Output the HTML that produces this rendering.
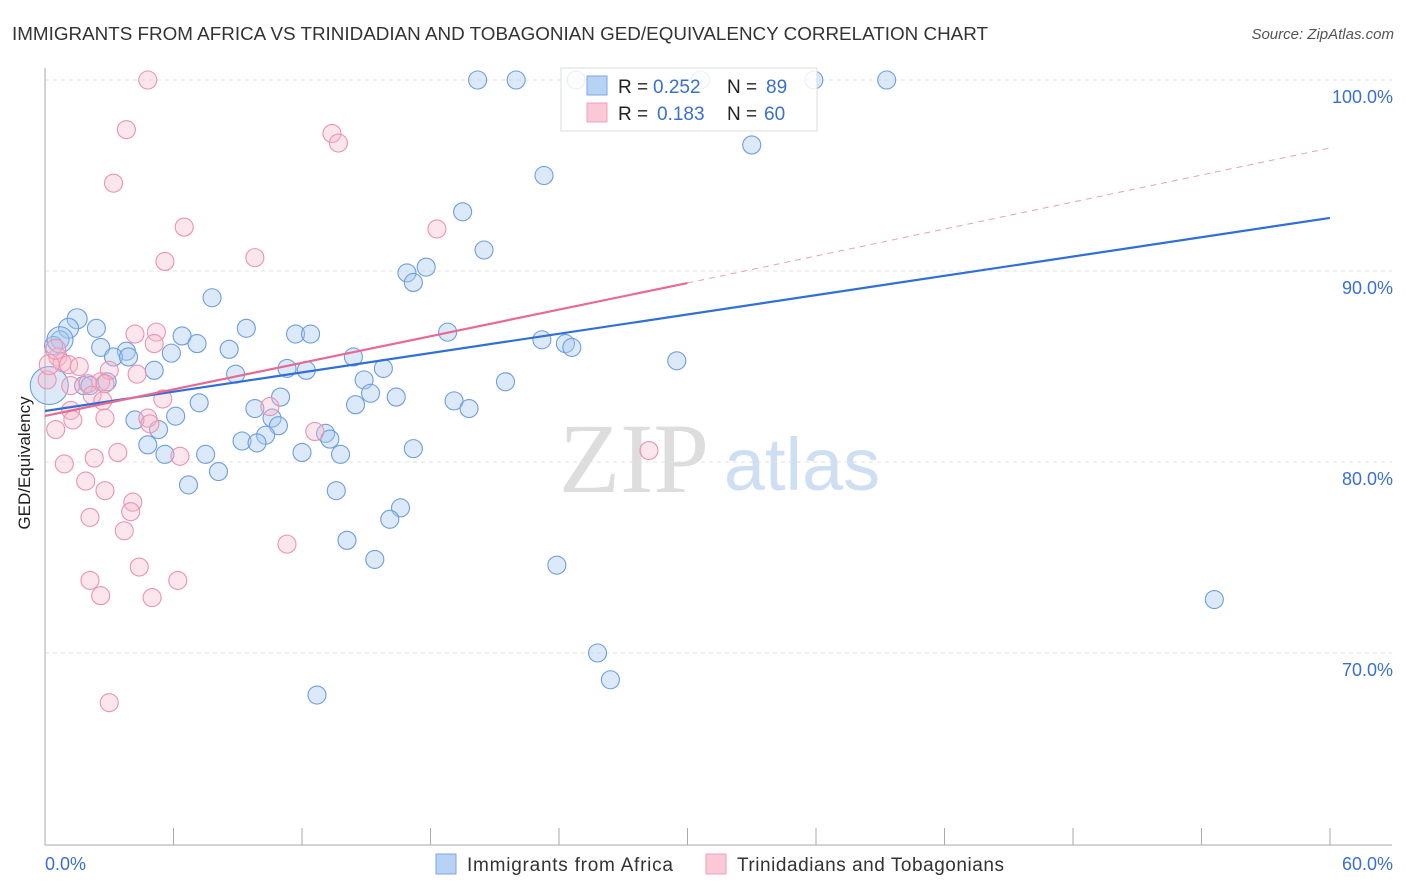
<!DOCTYPE html>
<html><head><meta charset="utf-8"><style>
body{margin:0;background:#fff;font-family:"Liberation Sans",sans-serif;}
svg{display:block}
</style></head><body>
<svg id="c" width="1406" height="892" viewBox="0 0 1406 892">
<text x="12" y="40" font-size="18" fill="#333" textLength="976" lengthAdjust="spacingAndGlyphs">IMMIGRANTS FROM AFRICA VS TRINIDADIAN AND TOBAGONIAN GED/EQUIVALENCY CORRELATION CHART</text>
<text x="1394" y="39" font-size="15" fill="#555" font-style="italic" text-anchor="end">Source: ZipAtlas.com</text>
<g>
<text x="634" y="492" font-size="100" font-family="Liberation Serif,serif" fill="#ddd" text-anchor="middle">ZIP</text>
<text x="802" y="490" font-size="74" fill="#cfdff3" text-anchor="middle">atlas</text>
</g>
<g id="grid"></g>
<g id="axes"></g>
<g id="pts"></g>
<g id="trend"></g>
<text x="22" y="455" font-size="17" fill="#222" transform="rotate(-90 30 455)" text-anchor="middle">GED/Equivalency</text>
<g>
<rect x="561" y="68" width="256" height="63" fill="#fff" fill-opacity="0.85" stroke="#ddd"/>
<rect x="587" y="76" width="20" height="19" fill="#b7d2f5" stroke="#7aa8e6"/>
<rect x="587" y="103" width="20" height="19" fill="#fbc8d7" stroke="#f0a0b8"/>
<text y="93" font-size="19" fill="#222"><tspan x="618">R =</tspan><tspan x="653" fill="#3a6fd0">0.252</tspan><tspan x="727">N =</tspan><tspan x="766" fill="#3a6fd0">89</tspan></text>
<text y="120" font-size="19" fill="#222"><tspan x="618">R =</tspan><tspan x="657" fill="#3a6fd0">0.183</tspan><tspan x="727">N =</tspan><tspan x="764" fill="#3a6fd0">60</tspan></text>
</g>
<g>
<rect x="436" y="854" width="20" height="20" fill="#b7d2f5" stroke="#7aa8e6"/>
<text x="467" y="871" font-size="19" fill="#333" textLength="206">Immigrants from Africa</text>
<rect x="706" y="854" width="20" height="20" fill="#fbc8d7" stroke="#f0a0b8"/>
<text x="737" y="871" font-size="19" fill="#333" textLength="267">Trinidadians and Tobagonians</text>
</g>
</svg>
<script>
const blueX=[20.2,22.0,24.8,30.6,35.9,39.3,33.0,23.3,19.5,20.5,16.9,17.8,17.2,7.8,1.5,1.1,2.4,9.4,11.7,12.4,18.8,6.4,7.1,2.6,3.8,5.9,8.6,23.2,24.3,24.6,29.5,0.7,0.4,3.2,3.9,5.1,8.9,14.4,15.8,11.3,12.2,14.9,21.5,2.9,1.8,2.1,15.2,16.4,11.0,7.2,19.1,19.8,14.5,9.8,6.1,4.2,10.6,10.9,5.3,10.3,13.1,13.3,9.2,9.9,4.8,12.0,13.8,17.2,5.6,7.5,8.1,6.7,13.6,16.6,16.1,14.1,15.4,23.9,54.6,25.8,26.4,12.7,0.2,0.7];
const blueY=[100,100,100,100,100,100,96.6,95.0,93.1,91.1,89.9,90.2,89.4,88.6,87.5,87.0,87.0,87.0,86.7,86.7,86.8,86.6,86.2,86.0,85.8,85.7,85.9,86.4,86.2,86.0,85.3,86.4,86.1,85.5,85.5,84.8,84.6,85.5,84.9,84.9,84.8,84.3,84.2,84.2,84.0,84.0,83.6,83.4,83.4,83.1,83.2,82.8,83.0,82.8,82.4,82.2,82.3,81.9,81.7,81.4,81.5,81.2,81.1,81.0,80.9,80.5,80.4,80.7,80.4,80.4,79.5,78.8,78.5,77.6,77.0,75.9,74.9,74.6,72.8,70.0,68.6,67.8,84.0,86.4];
const blueR=[9,9,9,9,9,9,9,9,9,9,9,9,9,9,10,10,9,9,9,9,9,9,9,9,9,9,9,9,9,9,9,9,9,9,9,9,9,9,9,9,9,9,9,9,9,9,9,9,9,9,9,9,9,9,9,9,9,9,9,9,9,9,9,9,9,9,9,9,9,9,9,9,9,9,9,9,9,9,9,9,9,9,19,13];
const pinkX=[4.8,3.8,13.4,13.7,3.2,6.5,5.6,9.8,18.3,4.2,5.2,5.1,0.6,0.8,1.1,1.6,0.1,3.0,4.3,2.6,2.0,2.8,1.2,2.2,2.7,5.5,1.2,1.3,4.8,4.9,2.8,0.5,12.6,10.5,6.3,2.3,3.4,0.9,1.9,2.8,4.1,4.0,2.1,3.7,11.3,4.4,2.1,6.2,2.6,5.0,3.0,28.2,0.2,0.5];
const pinkY=[100,97.4,97.2,96.7,94.6,92.3,90.5,90.7,92.2,86.7,86.8,86.2,85.5,85.2,85.1,85.0,84.3,84.8,84.6,84.2,84.1,84.1,84.0,83.5,83.2,83.3,82.7,82.2,82.3,82.0,82.3,81.7,81.6,82.9,80.3,80.2,80.5,79.9,79.0,78.5,77.9,77.4,77.1,76.4,75.7,74.5,73.8,73.8,73.0,72.9,67.4,80.6,85.1,85.9];
const blueTrend=[82.67,92.78];
const pinkTrend=[82.41,89.37,96.44];
const xTicks=[6,12,18,24,30,36,42,48,54,60];
const yTicks=[70,80,90,100];
const NS='http://www.w3.org/2000/svg';
const X=v=>45+v*(1285/60);
const Y=v=>80+(100-v)*19.1;
function mk(par,tag,at){const e=document.createElementNS(NS,tag);for(const k in at)e.setAttribute(k,at[k]);document.getElementById(par).appendChild(e);return e;}
yTicks.forEach(t=>{
 const l=mk('grid','line',{x1:45,x2:1392,y1:Y(t),y2:Y(t),stroke:'#e2e2e2','stroke-dasharray':'4,4'});
 
 
 const tx=mk('grid','text',{x:1393,y:Y(t)+23,'font-size':18,fill:'#3a6fd0','text-anchor':'end'});
 tx.textContent=t.toFixed(1)+'%';
 
 
});
mk('axes','line',{x1:45,x2:45,y1:68,y2:845,stroke:'#aaa'});
mk('axes','line',{x1:45,x2:1392,y1:845,y2:845,stroke:'#aaa'});
xTicks.forEach(t=>{const l=mk('axes','line',{x1:X(t),x2:X(t),y1:828,y2:845,stroke:'#aaa'});
 
 });
const xl0=mk('axes','text',{x:45,y:870,'font-size':18,fill:'#3a6fd0'});xl0.textContent='0.0%';


const xl1=mk('axes','text',{x:1393,y:870,'font-size':18,fill:'#3a6fd0','text-anchor':'end'});xl1.textContent='60.0%';


blueX.forEach((v,i)=>{const c=mk('pts','circle',{cx:X(v),cy:Y(blueY[i]),r:blueR[i],fill:'#a8c8f0','fill-opacity':0.4,stroke:'#6e9de0','stroke-width':1.1});
 
 });
pinkX.forEach((v,i)=>{const c=mk('pts','circle',{cx:X(v),cy:Y(pinkY[i]),r:(i>=52?10:9),fill:'#f7b8cc','fill-opacity':0.35,stroke:'#eb93ae','stroke-width':1.1});
 
 });
const b=mk('trend','line',{x1:X(0),y1:Y(blueTrend[0]),x2:X(60),y2:Y(blueTrend[1]),stroke:'#2f6fd6','stroke-width':2.2});


const p=mk('trend','line',{x1:X(0),y1:Y(pinkTrend[0]),x2:X(30),y2:Y(pinkTrend[1]),stroke:'#e86a93','stroke-width':2.2});


const pd=mk('trend','line',{x1:X(30),y1:Y(pinkTrend[1]),x2:X(60),y2:Y(pinkTrend[2]),stroke:'#e8a0b8','stroke-width':1,'stroke-dasharray':'6,5'});


</script>
</body></html>
